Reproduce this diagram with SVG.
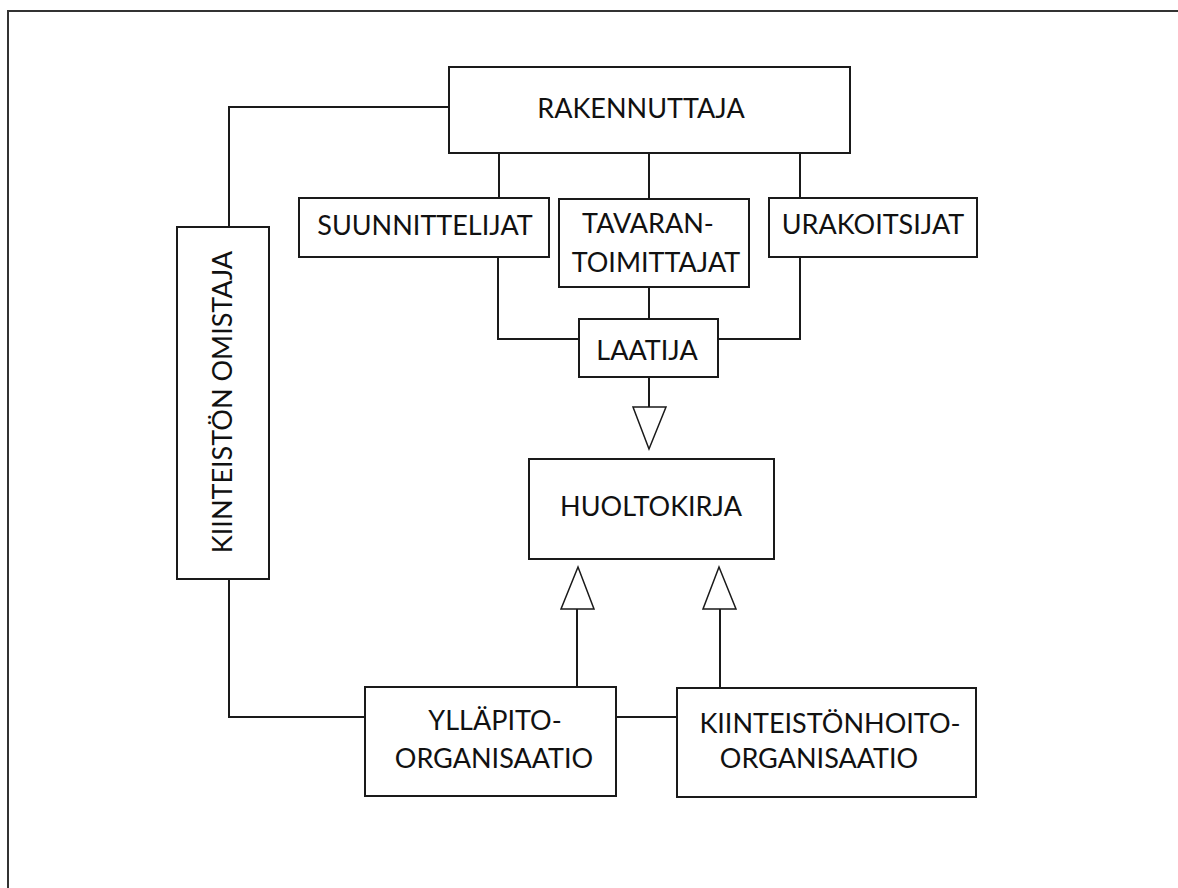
<svg xmlns="http://www.w3.org/2000/svg" width="1178" height="888" viewBox="0 0 1178 888">
<style>
  .box { fill: #ffffff; stroke: #1a1a1a; stroke-width: 2; }
  .line { fill: none; stroke: #1a1a1a; stroke-width: 2; }
  .tri { fill: #ffffff; stroke: #1a1a1a; stroke-width: 1.5; stroke-linejoin: miter; }
  .lbl { font-family: Lato, "Liberation Sans", sans-serif; font-size: 27px; fill: #111111; text-anchor: middle; }
</style>
<rect x="0" y="0" width="1178" height="888" fill="#ffffff"/>
<path d="M8,888 V11 H1178" fill="none" stroke="#333333" stroke-width="2"/>
<g id="connectors">
  <path class="line" d="M449,107 H229 V227"/>
  <path class="line" d="M229,579 V717 H365"/>
  <path class="line" d="M616,717 H677"/>
  <path class="line" d="M499,153 V198"/>
  <path class="line" d="M649,153 V199"/>
  <path class="line" d="M800,153 V198"/>
  <path class="line" d="M498,257 V339 H579"/>
  <path class="line" d="M800,257 V339 H718"/>
  <path class="line" d="M649,287 V319"/>
  <path class="line" d="M649,377 V407"/>
  <polygon class="tri" points="633,407 666,407 649,449"/>
  <path class="line" d="M577,687 V609"/>
  <polygon class="tri" points="561,609 594,609 578,567"/>
  <path class="line" d="M720,688 V609"/>
  <polygon class="tri" points="703,609 736,609 719,567"/>
</g>
<g id="rakennuttaja">
  <rect class="box" x="449" y="67" width="401" height="86"/>
  <text class="lbl" x="641" y="118">RAKENNUTTAJA</text>
</g>
<g id="suunnittelijat">
  <rect class="box" x="299" y="198" width="250" height="59"/>
  <text class="lbl" x="425" y="235">SUUNNITTELIJAT</text>
</g>
<g id="tavarantoimittajat">
  <rect class="box" x="559" y="199" width="190" height="88"/>
  <text class="lbl" x="648" y="233">TAVARAN-</text>
  <text class="lbl" x="656" y="272">TOIMITTAJAT</text>
</g>
<g id="urakoitsijat">
  <rect class="box" x="769" y="198" width="208" height="59"/>
  <text class="lbl" x="873" y="234">URAKOITSIJAT</text>
</g>
<g id="laatija">
  <rect class="box" x="579" y="319" width="139" height="58"/>
  <text class="lbl" x="647" y="360">LAATIJA</text>
</g>
<g id="huoltokirja">
  <rect class="box" x="529" y="459" width="245" height="100"/>
  <text class="lbl" x="651" y="516">HUOLTOKIRJA</text>
</g>
<g id="kiinteiston-omistaja">
  <rect class="box" x="177" y="227" width="92" height="352"/>
  <text class="lbl" transform="translate(232,402) rotate(-90)" x="0" y="0">KIINTEISTÖN OMISTAJA</text>
</g>
<g id="yllapito-organisaatio">
  <rect class="box" x="365" y="687" width="251" height="109"/>
  <text class="lbl" x="495" y="730">YLLÄPITO-</text>
  <text class="lbl" x="494" y="768">ORGANISAATIO</text>
</g>
<g id="kiinteistonhoito-organisaatio">
  <rect class="box" x="677" y="688" width="299" height="109"/>
  <text class="lbl" x="830" y="733">KIINTEISTÖNHOITO-</text>
  <text class="lbl" x="819" y="768">ORGANISAATIO</text>
</g>
</svg>
